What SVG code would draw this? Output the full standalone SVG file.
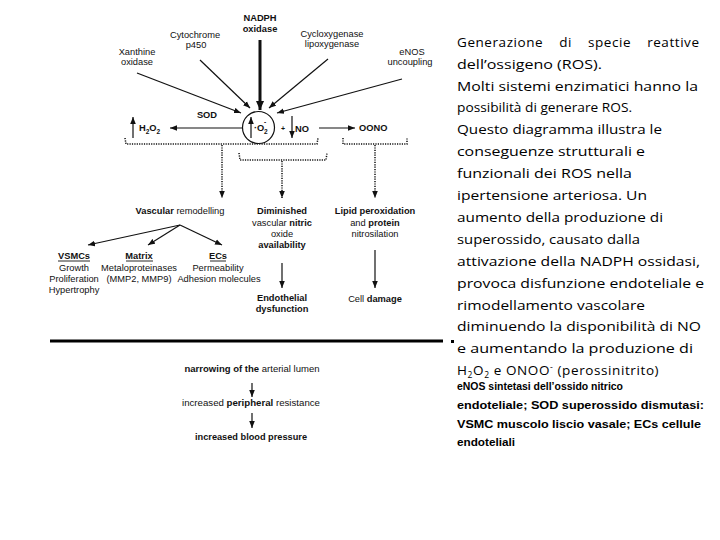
<svg xmlns="http://www.w3.org/2000/svg" width="720" height="540" viewBox="0 0 720 540">
<style>
.t{font-family:"Liberation Sans",Arial,sans-serif;font-size:9.3px;fill:#111;text-anchor:middle}
.b{font-weight:bold}
.s{font-size:6.5px}
.r{font-family:"Open Sans","Noto Sans",sans-serif;font-size:13.5px;fill:#000}
.n{font-family:"Liberation Sans",Arial,sans-serif;font-size:10.5px;font-weight:bold;fill:#000}
.ln{stroke:#111;stroke-width:1.2;fill:none}
.dt{stroke:#111;stroke-width:1.5;stroke-dasharray:1.2 1.2;fill:none}
</style>
<defs>
<marker id="ah" viewBox="0 0 10 10" refX="10" refY="5" markerWidth="7" markerHeight="7" markerUnits="userSpaceOnUse" orient="auto"><path d="M0,1 L10,5 L0,9 z" fill="#111"/></marker>
<marker id="ahb" viewBox="0 0 10 10" refX="10" refY="5" markerWidth="9" markerHeight="9" markerUnits="userSpaceOnUse" orient="auto"><path d="M0,0.5 L10,5 L0,9.5 z" fill="#111"/></marker>
</defs>
<rect width="720" height="540" fill="#fff"/>

<g id="connectors">
<line class="ln" x1="137" y1="73" x2="241" y2="113" marker-end="url(#ah)"/>
<line class="ln" x1="200" y1="60" x2="250" y2="108" marker-end="url(#ah)"/>
<line x1="260" y1="40" x2="260" y2="110" stroke="#111" stroke-width="3" marker-end="url(#ahb)"/>
<line class="ln" x1="328" y1="59" x2="269" y2="108" marker-end="url(#ah)"/>
<line class="ln" x1="402" y1="79" x2="277" y2="113" marker-end="url(#ah)"/>
<line class="ln" x1="242" y1="128" x2="170" y2="128" marker-end="url(#ah)"/>
<line class="ln" x1="319" y1="128" x2="355" y2="128" marker-end="url(#ah)"/>
<path class="dt" d="M125,138 L126,144 L317,144 L318,138"/>
<path class="dt" d="M239,153 L240,160 L326,160 L327,153"/>
<path class="dt" d="M343,138 L343,144 L407,144 L407,138"/>
<line class="dt" x1="222" y1="145" x2="222" y2="198" marker-end="url(#ah)"/>
<line class="dt" x1="282" y1="161" x2="282" y2="198" marker-end="url(#ah)"/>
<line class="dt" x1="375" y1="145" x2="375" y2="198" marker-end="url(#ah)"/>
<line class="ln" x1="180" y1="225" x2="88" y2="245" marker-end="url(#ah)"/>
<line class="ln" x1="180" y1="225" x2="148" y2="245" marker-end="url(#ah)"/>
<line class="ln" x1="180" y1="225" x2="222" y2="245" marker-end="url(#ah)"/>
<line class="ln" x1="282" y1="263" x2="282" y2="288" marker-end="url(#ah)"/>
<line class="ln" x1="375" y1="250" x2="375" y2="288" marker-end="url(#ah)"/>
<line class="ln" x1="252" y1="383" x2="252" y2="397" marker-end="url(#ah)"/>
<line class="ln" x1="252" y1="413" x2="252" y2="428" marker-end="url(#ah)"/>
</g>

<g id="nadph"><text class="t b" x="260" y="20.5">NADPH</text><text class="t b" x="260" y="32">oxidase</text></g>
<g id="cytochrome"><text class="t" x="195" y="38">Cytochrome</text><text class="t" x="196" y="48">p450</text></g>
<g id="xanthine"><text class="t" x="137" y="55">Xanthine</text><text class="t" x="137" y="65">oxidase</text></g>
<g id="cyclox"><text class="t" x="332" y="37">Cycloxygenase</text><text class="t" x="332" y="47">lipoxygenase</text></g>
<g id="enos"><text class="t" x="412" y="55">eNOS</text><text class="t" x="410" y="65">uncoupling</text></g>

<g id="superoxide">
<circle cx="258.5" cy="127.5" r="16" fill="none" stroke="#111" stroke-width="1.2"/>
<line class="ln" x1="251" y1="138" x2="251" y2="117" marker-end="url(#ah)"/>
<text class="t b" x="254" y="131" style="text-anchor:start">·O</text>
<text class="t b s" x="264" y="134" style="text-anchor:start">2</text>
<text class="t b s" x="264" y="124" style="text-anchor:start">-</text>
</g>
<g id="no">
<text class="t b" x="283" y="131" style="font-size:7px">+</text>
<line class="ln" x1="292" y1="116" x2="292" y2="138" marker-end="url(#ah)"/>
<text class="t b" x="295" y="132" style="text-anchor:start">NO</text>
</g>
<g id="sod"><text class="t b" x="207" y="118">SOD</text></g>
<g id="h2o2">
<line class="ln" x1="133" y1="138" x2="133" y2="117" marker-end="url(#ah)"/>
<text class="t b" x="139" y="131" style="text-anchor:start">H<tspan class="s" dy="2.5">2</tspan><tspan dy="-2.5">O</tspan><tspan class="s" dy="2.5">2</tspan></text>
</g>
<g id="oono"><text class="t b" x="359" y="131" style="text-anchor:start">OONO</text></g>

<g id="vascular"><text class="t" x="180" y="214"><tspan class="b">Vascular</tspan> remodelling</text></g>
<g id="diminished">
<text class="t b" x="282" y="214">Diminished</text>
<text class="t" x="282" y="225.5">vascular <tspan class="b">nitric</tspan></text>
<text class="t" x="282" y="236.5">oxide</text>
<text class="t b" x="282" y="247.5">availability</text>
</g>
<g id="lipid">
<text class="t b" x="375" y="214">Lipid peroxidation</text>
<text class="t" x="375" y="225.5">and <tspan class="b">protein</tspan></text>
<text class="t" x="375" y="236.5">nitrosilation</text>
</g>
<g id="vsmcs">
<text class="t b" x="74" y="259">VSMCs</text>
<line x1="58" y1="261" x2="90" y2="261" stroke="#111" stroke-width="0.9"/>
<text class="t" x="74" y="270.5">Growth</text>
<text class="t" x="74" y="281.5">Proliferation</text>
<text class="t" x="74" y="292.5">Hypertrophy</text>
</g>
<g id="matrix">
<text class="t b" x="139" y="259">Matrix</text>
<line x1="126" y1="261" x2="153" y2="261" stroke="#111" stroke-width="0.9"/>
<text class="t" x="139" y="270.5">Metaloproteinases</text>
<text class="t" x="139" y="281.5">(MMP2, MMP9)</text>
</g>
<g id="ecs">
<text class="t b" x="218" y="259">ECs</text>
<line x1="210" y1="261" x2="226" y2="261" stroke="#111" stroke-width="0.9"/>
<text class="t" x="218" y="270.5">Permeability</text>
<text class="t" x="219" y="281.5">Adhesion molecules</text>
</g>
<g id="endothelial"><text class="t b" x="282" y="301">Endothelial</text><text class="t b" x="282" y="312">dysfunction</text></g>
<g id="celldamage"><text class="t" x="375" y="302">Cell <tspan class="b">damage</tspan></text></g>

<g id="divider"><line x1="50" y1="341" x2="443" y2="341" stroke="#000" stroke-width="2.8"/><rect x="451" y="340" width="3" height="3" fill="#000"/></g>

<g id="narrowing"><text class="t" x="252" y="372" textLength="135" lengthAdjust="spacingAndGlyphs"><tspan class="b">narrowing of the</tspan> arterial lumen</text></g>
<g id="resistance"><text class="t" x="251" y="406" textLength="138" lengthAdjust="spacingAndGlyphs">increased <tspan class="b">peripheral</tspan> resistance</text></g>
<g id="pressure"><text class="t b" x="251" y="440" textLength="112" lengthAdjust="spacingAndGlyphs">increased blood pressure</text></g>

<g id="caption">
<text class="r" x="457" y="46.7" textLength="242" lengthAdjust="spacing" style="word-spacing:12px">Generazione di specie reattive</text>
<text class="r" x="457" y="68.6" textLength="145" lengthAdjust="spacingAndGlyphs">dell’ossigeno (ROS).</text>
<text class="r" x="457" y="90.5" textLength="241" lengthAdjust="spacingAndGlyphs">Molti sistemi enzimatici hanno la</text>
<text class="r" x="457" y="112.4" textLength="175" lengthAdjust="spacingAndGlyphs">possibilità di generare ROS.</text>
<text class="r" x="457" y="134.3" textLength="205" lengthAdjust="spacingAndGlyphs">Questo diagramma illustra le</text>
<text class="r" x="457" y="156.2" textLength="188" lengthAdjust="spacingAndGlyphs">conseguenze strutturali e</text>
<text class="r" x="457" y="178.1" textLength="175" lengthAdjust="spacingAndGlyphs">funzionali dei ROS nella</text>
<text class="r" x="457" y="200" textLength="190" lengthAdjust="spacingAndGlyphs">ipertensione arteriosa. Un</text>
<text class="r" x="457" y="221.9" textLength="206" lengthAdjust="spacingAndGlyphs">aumento della produzione di</text>
<text class="r" x="457" y="243.8" textLength="183" lengthAdjust="spacingAndGlyphs">superossido, causato dalla</text>
<text class="r" x="457" y="265.7" textLength="243" lengthAdjust="spacingAndGlyphs">attivazione della NADPH ossidasi,</text>
<text class="r" x="457" y="287.6" textLength="247" lengthAdjust="spacingAndGlyphs">provoca disfunzione endoteliale e</text>
<text class="r" x="457" y="309.5" textLength="188" lengthAdjust="spacingAndGlyphs">rimodellamento vascolare</text>
<text class="r" x="457" y="331.4" textLength="244" lengthAdjust="spacingAndGlyphs">diminuendo la disponibilità di NO</text>
<text class="r" x="457" y="353.3" textLength="236" lengthAdjust="spacingAndGlyphs">e aumentando la produzione di</text>
<text class="r" x="457" y="375.2" style="letter-spacing:0.6px">H<tspan font-size="8.5" dy="2.5">2</tspan><tspan dy="-2.5">O</tspan><tspan font-size="8.5" dy="2.5">2</tspan><tspan dy="-2.5"> e ONOO</tspan><tspan font-size="8.5" dy="-5">-</tspan><tspan dy="5"> (perossinitrito)</tspan></text>
<text class="n" x="457" y="390" textLength="166" lengthAdjust="spacingAndGlyphs">eNOS sintetasi dell’ossido nitrico</text>
<text class="n" x="457" y="408.7" textLength="247" lengthAdjust="spacingAndGlyphs">endoteliale; SOD superossido dismutasi:</text>
<text class="n" x="457" y="427.5" textLength="244" lengthAdjust="spacingAndGlyphs">VSMC muscolo liscio vasale; ECs cellule</text>
<text class="n" x="457" y="446.3" textLength="58" lengthAdjust="spacingAndGlyphs">endoteliali</text>
</g>
</svg>
